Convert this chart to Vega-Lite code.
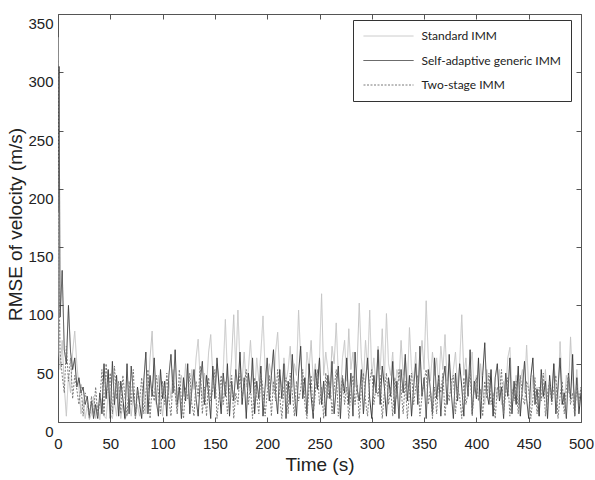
{
  "$schema": "https://vega.github.io/schema/vega-lite/v6.json",
  "width": 523,
  "height": 408,
  "autosize": "none",
  "padding": {"left": 58, "top": 14, "right": 14, "bottom": 58},
  "background": "white",
  "data": {"values": [
{"t":0,"s":330,"g":180,"w":310},{"t":1,"s":60,"g":305,"w":120},{"t":2,"s":45,"g":90,"w":60},{"t":4,"s":70,"g":130,"w":40},{"t":6,"s":30,"g":62,"w":25},{"t":8,"s":5,"g":50,"w":65},{"t":10,"s":40,"g":100,"w":35},{"t":12,"s":25,"g":60,"w":55},{"t":14,"s":60,"g":45,"w":20},{"t":16,"s":78,"g":55,"w":40},{"t":18,"s":50,"g":30,"w":28},
{"t":20,"s":30,"g":38,"w":15},{"t":22,"s":7,"g":25,"w":32},{"t":24,"s":20,"g":30,"w":5},{"t":26,"s":3,"g":15,"w":25},{"t":28,"s":15,"g":22,"w":18},{"t":30,"s":2,"g":5,"w":3},{"t":32,"s":7,"g":18,"w":22},{"t":34,"s":22,"g":3,"w":7},{"t":36,"s":3,"g":15,"w":30},{"t":38,"s":15,"g":3,"w":5},
{"t":40,"s":2,"g":25,"w":18},{"t":42,"s":20,"g":7,"w":45},{"t":44,"s":5,"g":50,"w":5},{"t":46,"s":3,"g":20,"w":50},{"t":48,"s":25,"g":45,"w":25},{"t":50,"s":7,"g":3,"w":42},{"t":52,"s":3,"g":52,"w":7},{"t":54,"s":18,"g":15,"w":48},{"t":56,"s":5,"g":40,"w":20},{"t":58,"s":30,"g":5,"w":35},
{"t":60,"s":3,"g":35,"w":7},{"t":62,"s":15,"g":20,"w":40},{"t":64,"s":2,"g":3,"w":22},{"t":66,"s":7,"g":50,"w":5},{"t":68,"s":20,"g":7,"w":35},{"t":70,"s":5,"g":48,"w":15},{"t":72,"s":25,"g":25,"w":45},{"t":74,"s":3,"g":5,"w":3},{"t":76,"s":15,"g":30,"w":28},{"t":78,"s":5,"g":15,"w":18},
{"t":80,"s":20,"g":3,"w":38},{"t":82,"s":35,"g":35,"w":7},{"t":84,"s":7,"g":60,"w":25},{"t":86,"s":25,"g":7,"w":45},{"t":88,"s":55,"g":40,"w":3},{"t":90,"s":78,"g":22,"w":30},{"t":92,"s":30,"g":55,"w":18},{"t":94,"s":15,"g":18,"w":40},{"t":96,"s":40,"g":5,"w":25},{"t":98,"s":20,"g":45,"w":7},
{"t":100,"s":5,"g":20,"w":35},{"t":102,"s":28,"g":35,"w":15},{"t":104,"s":15,"g":5,"w":42},{"t":106,"s":35,"g":40,"w":20},{"t":108,"s":20,"g":58,"w":5},{"t":110,"s":45,"g":25,"w":38},{"t":112,"s":25,"g":62,"w":25},{"t":114,"s":7,"g":15,"w":7},{"t":116,"s":30,"g":30,"w":45},{"t":118,"s":40,"g":3,"w":18},
{"t":120,"s":22,"g":38,"w":3},{"t":122,"s":50,"g":18,"w":30},{"t":124,"s":35,"g":50,"w":20},{"t":126,"s":15,"g":7,"w":42},{"t":128,"s":45,"g":28,"w":15},{"t":130,"s":28,"g":45,"w":5},{"t":132,"s":55,"g":20,"w":35},{"t":134,"s":71,"g":5,"w":22},{"t":136,"s":35,"g":35,"w":48},{"t":138,"s":20,"g":52,"w":7},
{"t":140,"s":42,"g":15,"w":30},{"t":142,"s":30,"g":40,"w":5},{"t":144,"s":60,"g":25,"w":38},{"t":146,"s":75,"g":3,"w":18},{"t":148,"s":40,"g":48,"w":28},{"t":150,"s":25,"g":20,"w":45},{"t":152,"s":50,"g":55,"w":3},{"t":154,"s":35,"g":30,"w":22},{"t":156,"s":20,"g":7,"w":40},{"t":158,"s":45,"g":42,"w":15},
{"t":160,"s":88,"g":22,"w":35},{"t":162,"s":40,"g":50,"w":7},{"t":164,"s":30,"g":5,"w":28},{"t":166,"s":55,"g":35,"w":40},{"t":168,"s":92,"g":18,"w":3},{"t":170,"s":45,"g":45,"w":25},{"t":172,"s":96,"g":28,"w":15},{"t":174,"s":50,"g":60,"w":42},{"t":176,"s":35,"g":15,"w":20},{"t":178,"s":60,"g":38,"w":32},
{"t":180,"s":30,"g":3,"w":45},{"t":182,"s":45,"g":42,"w":15},{"t":184,"s":70,"g":25,"w":30},{"t":186,"s":40,"g":55,"w":3},{"t":188,"s":25,"g":7,"w":38},{"t":190,"s":55,"g":35,"w":22},{"t":192,"s":35,"g":20,"w":7},{"t":194,"s":60,"g":48,"w":42},{"t":196,"s":91,"g":5,"w":28},{"t":198,"s":45,"g":30,"w":5},
{"t":200,"s":30,"g":55,"w":25},{"t":202,"s":50,"g":18,"w":40},{"t":204,"s":40,"g":40,"w":5},{"t":206,"s":25,"g":62,"w":35},{"t":208,"s":60,"g":25,"w":18},{"t":210,"s":77,"g":7,"w":45},{"t":212,"s":40,"g":45,"w":22},{"t":214,"s":30,"g":20,"w":3},{"t":216,"s":55,"g":50,"w":30},{"t":218,"s":35,"g":3,"w":38},
{"t":220,"s":45,"g":35,"w":7},{"t":222,"s":65,"g":15,"w":42},{"t":224,"s":30,"g":58,"w":25},{"t":226,"s":50,"g":25,"w":5},{"t":228,"s":40,"g":5,"w":35},{"t":230,"s":96,"g":42,"w":18},{"t":232,"s":55,"g":65,"w":28},{"t":234,"s":35,"g":20,"w":45},{"t":236,"s":25,"g":38,"w":15},{"t":238,"s":60,"g":7,"w":3},
{"t":240,"s":45,"g":50,"w":30},{"t":242,"s":70,"g":22,"w":40},{"t":244,"s":35,"g":3,"w":7},{"t":246,"s":50,"g":45,"w":25},{"t":248,"s":30,"g":28,"w":45},{"t":250,"s":55,"g":55,"w":15},{"t":252,"s":110,"g":15,"w":30},{"t":254,"s":40,"g":35,"w":3},{"t":256,"s":60,"g":5,"w":42},{"t":258,"s":45,"g":40,"w":20},
{"t":260,"s":30,"g":20,"w":35},{"t":262,"s":65,"g":52,"w":7},{"t":264,"s":50,"g":7,"w":28},{"t":266,"s":85,"g":30,"w":45},{"t":268,"s":40,"g":48,"w":5},{"t":270,"s":25,"g":3,"w":22},{"t":272,"s":55,"g":38,"w":40},{"t":274,"s":70,"g":25,"w":15},{"t":276,"s":35,"g":55,"w":30},{"t":278,"s":80,"g":15,"w":3},
{"t":280,"s":45,"g":42,"w":25},{"t":282,"s":60,"g":5,"w":40},{"t":284,"s":30,"g":60,"w":15},{"t":286,"s":50,"g":28,"w":32},{"t":288,"s":102,"g":18,"w":3},{"t":290,"s":55,"g":45,"w":28},{"t":292,"s":35,"g":7,"w":42},{"t":294,"s":70,"g":35,"w":18},{"t":296,"s":45,"g":55,"w":5},{"t":298,"s":96,"g":20,"w":35},
{"t":300,"s":40,"g":3,"w":45},{"t":302,"s":55,"g":40,"w":15},{"t":304,"s":30,"g":25,"w":30},{"t":306,"s":65,"g":62,"w":22},{"t":308,"s":45,"g":15,"w":40},{"t":310,"s":80,"g":48,"w":3},{"t":312,"s":35,"g":30,"w":25},{"t":314,"s":93,"g":5,"w":42},{"t":316,"s":50,"g":38,"w":15},{"t":318,"s":40,"g":22,"w":30},
{"t":320,"s":60,"g":52,"w":5},{"t":322,"s":25,"g":7,"w":38},{"t":324,"s":45,"g":35,"w":20},{"t":326,"s":35,"g":3,"w":45},{"t":328,"s":70,"g":45,"w":28},{"t":330,"s":40,"g":25,"w":7},{"t":332,"s":55,"g":58,"w":35},{"t":334,"s":30,"g":18,"w":3},{"t":336,"s":81,"g":40,"w":25},{"t":338,"s":45,"g":5,"w":42},
{"t":340,"s":35,"g":30,"w":15},{"t":342,"s":60,"g":50,"w":30},{"t":344,"s":25,"g":15,"w":40},{"t":346,"s":50,"g":65,"w":5},{"t":348,"s":70,"g":22,"w":22},{"t":350,"s":45,"g":38,"w":35},{"t":352,"s":104,"g":3,"w":45},{"t":354,"s":55,"g":45,"w":15},{"t":356,"s":35,"g":28,"w":28},{"t":358,"s":60,"g":7,"w":3},
{"t":360,"s":40,"g":55,"w":30},{"t":362,"s":55,"g":20,"w":7},{"t":364,"s":30,"g":40,"w":38},{"t":366,"s":65,"g":5,"w":25},{"t":368,"s":45,"g":35,"w":42},{"t":370,"s":75,"g":48,"w":5},{"t":372,"s":35,"g":15,"w":28},{"t":374,"s":50,"g":58,"w":18},{"t":376,"s":25,"g":25,"w":35},{"t":378,"s":45,"g":3,"w":40},
{"t":380,"s":60,"g":42,"w":7},{"t":382,"s":30,"g":18,"w":30},{"t":384,"s":50,"g":50,"w":22},{"t":386,"s":92,"g":30,"w":3},{"t":388,"s":40,"g":5,"w":38},{"t":390,"s":55,"g":45,"w":15},{"t":392,"s":30,"g":22,"w":25},{"t":394,"s":45,"g":62,"w":45},{"t":396,"s":60,"g":7,"w":5},{"t":398,"s":25,"g":35,"w":30},
{"t":400,"s":40,"g":20,"w":38},{"t":402,"s":20,"g":55,"w":18},{"t":404,"s":50,"g":3,"w":28},{"t":406,"s":30,"g":40,"w":5},{"t":408,"s":15,"g":68,"w":35},{"t":410,"s":45,"g":25,"w":20},{"t":412,"s":25,"g":15,"w":42},{"t":414,"s":35,"g":45,"w":15},{"t":416,"s":5,"g":5,"w":25},{"t":418,"s":30,"g":38,"w":3},
{"t":420,"s":20,"g":50,"w":30},{"t":422,"s":45,"g":18,"w":22},{"t":424,"s":15,"g":30,"w":45},{"t":426,"s":35,"g":3,"w":7},{"t":428,"s":25,"g":42,"w":25},{"t":430,"s":55,"g":22,"w":38},{"t":432,"s":64,"g":55,"w":5},{"t":434,"s":30,"g":7,"w":28},{"t":436,"s":20,"g":35,"w":18},{"t":438,"s":40,"g":15,"w":35},
{"t":440,"s":15,"g":48,"w":7},{"t":442,"s":35,"g":5,"w":40},{"t":444,"s":45,"g":30,"w":22},{"t":446,"s":25,"g":52,"w":15},{"t":448,"s":66,"g":20,"w":35},{"t":450,"s":30,"g":3,"w":28},{"t":452,"s":15,"g":38,"w":3},{"t":454,"s":40,"g":55,"w":20},{"t":456,"s":20,"g":15,"w":38},{"t":458,"s":30,"g":28,"w":7},
{"t":460,"s":5,"g":5,"w":30},{"t":462,"s":35,"g":45,"w":18},{"t":464,"s":20,"g":22,"w":42},{"t":466,"s":45,"g":35,"w":5},{"t":468,"s":15,"g":3,"w":25},{"t":470,"s":30,"g":40,"w":35},{"t":472,"s":25,"g":18,"w":15},{"t":474,"s":50,"g":50,"w":28},{"t":476,"s":35,"g":7,"w":40},{"t":478,"s":20,"g":30,"w":3},
{"t":480,"s":69,"g":55,"w":22},{"t":482,"s":30,"g":15,"w":35},{"t":484,"s":15,"g":25,"w":7},{"t":486,"s":40,"g":3,"w":28},{"t":488,"s":25,"g":42,"w":40},{"t":490,"s":73,"g":20,"w":15},{"t":492,"s":35,"g":58,"w":25},{"t":494,"s":20,"g":5,"w":5},{"t":496,"s":45,"g":38,"w":32},{"t":498,"s":15,"g":7,"w":18},
{"t":500,"s":30,"g":25,"w":30}
  ]},
  "transform": [{"fold": ["s", "g", "w"], "as": ["k", "v"]}],
  "layer": [
    {
      "mark": {"type": "line", "strokeWidth": 1, "clip": true},
      "encoding": {
        "x": {"field": "t", "type": "quantitative", "scale": {"domain": [0, 500], "nice": false},
              "axis": {"orient": "bottom", "values": [0,50,100,150,200,250,300,350,400,450,500], "title": "Time (s)", "labelPadding": 19, "titlePadding": 4}},
        "y": {"field": "v", "type": "quantitative", "scale": {"domain": [0, 350], "nice": false},
              "axis": {"orient": "left", "values": [0,50,100,150,200,250,300,350], "title": "RMSE of velocity (m/s)", "labelPadding": 10, "labelBaseline": "top", "labelOffset": 2.5, "titlePadding": 2, "titleY": 210}},
        "color": {"field": "k", "type": "nominal",
                  "scale": {"domain": ["s", "g", "w"], "range": ["#c4c4c4", "#3a3a3a", "#7a7a7a"]},
                  "legend": {"title": null, "orient": "none", "legendX": 295, "legendY": 6, "symbolType": "M-25,0H25", "symbolSize": 4, "symbolOffset": 19.5, "symbolStrokeWidth": 1, "labelFont": "Lato", "labelFontSize": 12, "labelColor": "#222", "labelOffset": 27, "padding": 10, "rowPadding": 12.5, "strokeColor": "#333", "fillColor": "white", "labelExpr": "datum.label == 's' ? 'Standard IMM' : datum.label == 'g' ? 'Self-adaptive generic IMM' : 'Two-stage IMM'"}},
        "strokeDash": {"field": "k", "type": "nominal",
                  "scale": {"domain": ["s", "g", "w"], "range": [[1, 0], [1, 0], [2, 1.5]]},
                  "legend": {"title": null, "orient": "none", "legendX": 295, "legendY": 6, "symbolType": "M-25,0H25", "symbolSize": 4, "symbolOffset": 19.5, "symbolStrokeWidth": 1, "labelFont": "Lato", "labelFontSize": 12, "labelColor": "#222", "labelOffset": 27, "padding": 10, "rowPadding": 12.5, "strokeColor": "#333", "fillColor": "white", "labelExpr": "datum.label == 's' ? 'Standard IMM' : datum.label == 'g' ? 'Self-adaptive generic IMM' : 'Two-stage IMM'"}}
      }
    },
    {
      "mark": {"type": "line", "opacity": 0},
      "encoding": {
        "x": {"field": "t", "type": "quantitative", "axis": {"orient": "top", "values": [0,50,100,150,200,250,300,350,400,450,500], "labels": false, "title": null}},
        "y": {"field": "v", "type": "quantitative", "axis": {"orient": "right", "values": [0,50,100,150,200,250,300,350], "labels": false, "title": null}}
      }
    }
  ],
  "resolve": {"axis": {"x": "independent", "y": "independent"}},
  "config": {
    "font": "Liberation Sans",
    "view": {"stroke": "#555", "strokeWidth": 1},
    "axis": {"domain": false, "grid": false, "tickSize": -5, "tickColor": "#555", "labelFont": "Liberation Sans", "labelFontSize": 15, "labelColor": "#222", "labelFlush": false, "labelOverlap": false, "titleFont": "Liberation Sans", "titleFontSize": 19, "titleFontWeight": "normal", "titleColor": "#222"}
  }
}
